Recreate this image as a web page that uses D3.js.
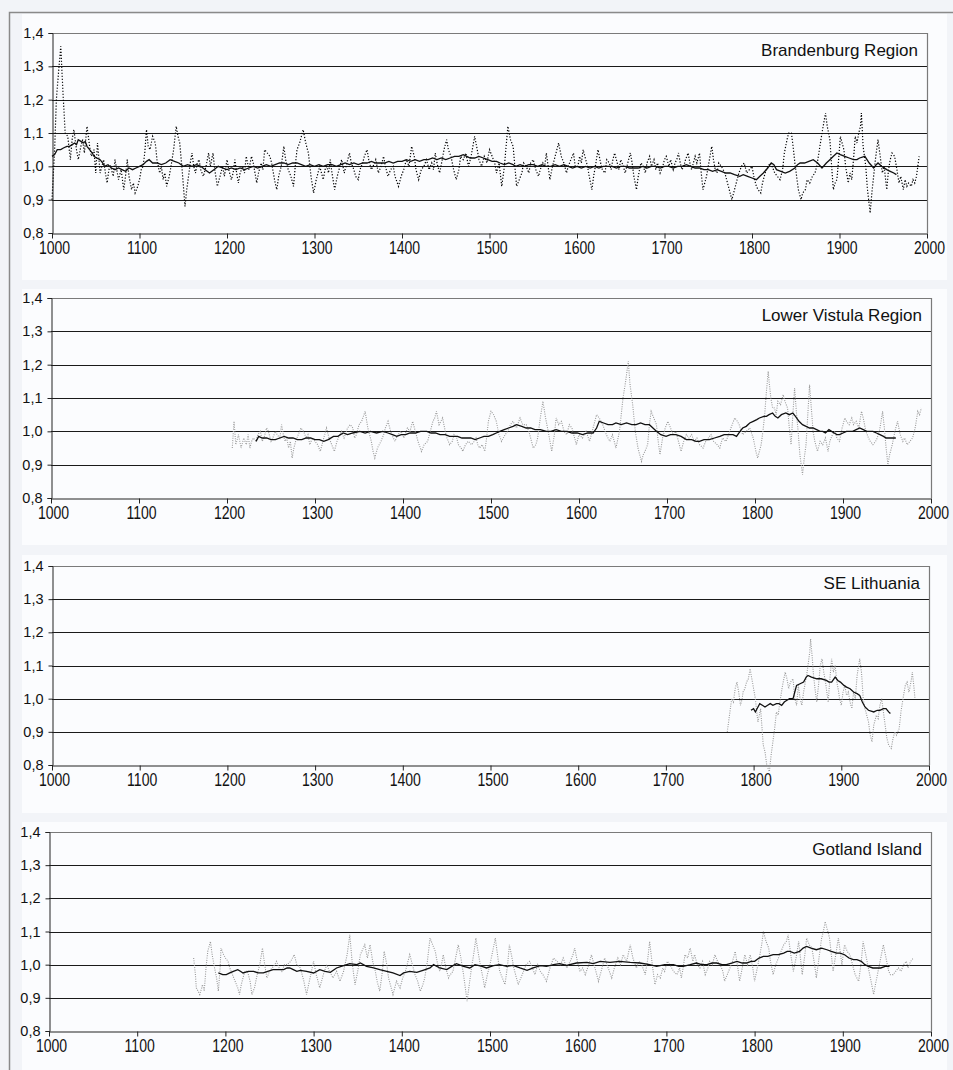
<!DOCTYPE html>
<html>
<head>
<meta charset="utf-8">
<script src="https://cdn.jsdelivr.net/npm/d3@7"></script>
<style>
  body { margin: 0; background: #f2f4f8; }
  svg { display: block; font-family: "Liberation Sans", Arial, sans-serif; }
</style>
</head>
<body>
<svg id="chart" width="953" height="1070"></svg>
<script>
'use strict';

// ---- data: [year, index] ----
const yTicks = [0.8, 0.9, 1.0, 1.1, 1.2, 1.3, 1.4];
const xTicks = [1000, 1100, 1200, 1300, 1400, 1500, 1600, 1700, 1800, 1900, 2000];
const regionNames = ["Brandenburg Region", "Lower Vistula Region", "SE Lithuania", "Gotland Island"];

const brandenburgIndex = [
  [1000,0.90],[1003,1.05],[1005,1.20],[1008,1.30],[1010,1.36],[1013,1.20],[1015,1.10],[1018,1.09],[1021,1.02],
  [1023,1.08],[1025,1.11],[1028,1.05],[1030,1.02],[1033,1.06],[1035,1.08],[1037,1.04],[1040,1.12],[1043,1.06],
  [1045,1.03],[1048,1.05],[1050,0.98],[1052,1.07],[1055,0.98],[1057,1.00],[1059,1.02],[1061,0.98],[1063,0.95],
  [1065,0.99],[1067,1.00],[1070,0.97],[1072,1.02],[1074,0.99],[1076,0.96],[1079,0.99],[1082,0.93],[1084,0.97],
  [1086,1.02],[1088,0.97],[1091,0.93],[1093,0.95],[1095,0.92],[1098,0.94],[1100,0.96],[1102,0.99],[1104,1.00],
  [1106,1.04],[1108,1.11],[1110,1.06],[1112,1.05],[1115,1.09],[1118,1.07],[1120,1.02],[1123,0.98],[1125,1.00],
  [1127,0.96],[1129,0.98],[1131,0.94],[1134,0.97],[1136,1.00],[1139,1.05],[1142,1.12],[1144,1.09],[1146,1.07],
  [1149,0.98],[1152,0.88],[1154,0.93],[1156,0.97],[1158,1.01],[1160,1.04],[1162,1.00],[1164,0.98],[1166,1.01],
  [1168,1.02],[1170,0.99],[1173,0.97],[1176,1.00],[1179,1.04],[1181,1.00],[1184,1.04],[1186,0.99],[1189,0.94],
  [1192,0.97],[1195,1.00],[1197,0.97],[1200,1.02],[1202,0.99],[1205,0.96],[1207,0.98],[1209,1.02],[1211,0.98],
  [1213,0.95],[1215,0.98],[1218,1.00],[1220,0.98],[1222,1.03],[1225,0.99],[1228,1.03],[1230,1.01],[1232,0.98],
  [1234,0.95],[1236,0.98],[1239,1.01],[1241,0.99],[1243,1.05],[1246,1.04],[1249,1.03],[1251,1.01],[1253,0.98],
  [1255,0.95],[1257,0.93],[1259,0.97],[1262,1.00],[1265,1.06],[1267,1.02],[1270,0.99],[1273,0.97],[1276,0.94],
  [1278,1.00],[1280,1.05],[1283,1.07],[1287,1.11],[1290,1.07],[1293,1.04],[1296,0.97],[1299,0.92],[1302,0.96],
  [1306,1.00],[1308,0.98],[1310,0.96],[1312,0.99],[1314,1.00],[1316,0.98],[1318,1.02],[1320,0.98],[1323,0.93],
  [1326,0.97],[1329,1.00],[1331,1.02],[1334,0.98],[1337,1.01],[1340,1.04],[1342,1.01],[1345,0.99],[1347,0.97],
  [1350,0.96],[1352,0.99],[1355,1.01],[1357,1.03],[1360,1.05],[1362,1.02],[1365,0.99],[1367,1.00],[1370,1.02],
  [1373,0.98],[1376,1.00],[1379,1.03],[1381,1.00],[1384,0.97],[1387,0.99],[1390,1.00],[1392,0.97],[1396,0.94],
  [1399,0.97],[1402,0.99],[1405,1.02],[1408,1.00],[1411,1.06],[1414,1.03],[1416,0.99],[1419,0.96],[1422,0.99],
  [1425,1.00],[1428,1.02],[1431,0.99],[1434,1.01],[1436,0.99],[1438,1.04],[1440,1.01],[1443,0.98],[1446,1.02],
  [1448,1.05],[1451,1.08],[1453,1.05],[1456,1.03],[1459,0.99],[1462,0.96],[1465,0.99],[1467,1.03],[1470,1.02],
  [1473,1.04],[1476,1.00],[1479,1.03],[1481,1.06],[1483,1.09],[1486,1.05],[1488,1.02],[1491,1.00],[1494,1.03],
  [1497,1.01],[1500,1.05],[1503,1.03],[1506,1.01],[1508,0.98],[1511,1.01],[1514,0.94],[1517,1.00],[1519,1.06],
  [1521,1.12],[1524,1.08],[1527,1.06],[1529,1.00],[1531,0.94],[1534,0.96],[1537,0.98],[1539,1.01],[1542,1.00],
  [1545,0.98],[1547,1.01],[1550,1.02],[1553,0.99],[1556,0.97],[1558,0.99],[1561,1.01],[1563,1.00],[1565,1.04],
  [1567,1.00],[1569,0.96],[1572,1.00],[1575,1.03],[1577,1.05],[1579,1.07],[1582,1.03],[1585,1.01],[1588,0.98],
  [1590,1.00],[1593,1.02],[1596,1.04],[1598,1.00],[1601,1.00],[1603,1.03],[1605,1.01],[1607,1.05],[1610,1.02],
  [1612,1.00],[1614,0.97],[1617,0.93],[1619,0.97],[1621,1.00],[1624,1.05],[1627,1.01],[1629,0.99],[1632,0.98],
  [1634,1.02],[1637,1.01],[1639,0.99],[1641,1.02],[1643,1.04],[1646,1.01],[1648,0.99],[1650,1.02],[1653,1.00],
  [1655,0.98],[1658,1.01],[1661,1.04],[1663,1.01],[1665,0.97],[1668,0.93],[1670,0.97],[1673,1.01],[1676,1.00],
  [1678,0.98],[1680,1.01],[1683,1.03],[1685,1.00],[1688,1.02],[1690,0.99],[1692,1.01],[1695,0.98],[1698,1.00],
  [1700,1.02],[1702,1.03],[1705,1.00],[1707,1.02],[1710,0.99],[1712,1.01],[1714,1.02],[1716,1.04],[1718,1.01],
  [1720,0.99],[1722,1.00],[1724,1.02],[1727,1.04],[1729,1.01],[1731,0.99],[1733,1.01],[1735,1.03],[1737,1.01],
  [1740,1.04],[1742,0.98],[1744,0.93],[1746,0.95],[1748,0.97],[1750,1.00],[1752,1.03],[1754,1.06],[1756,1.02],
  [1758,0.99],[1760,0.98],[1762,1.01],[1765,1.00],[1767,0.99],[1769,0.98],[1771,0.96],[1774,0.93],[1777,0.90],
  [1780,0.93],[1782,0.95],[1785,0.98],[1788,1.00],[1791,1.01],[1794,0.98],[1797,0.99],[1800,1.00],[1802,0.97],
  [1805,0.94],[1807,0.93],[1810,0.92],[1812,0.95],[1815,0.98],[1818,1.00],[1821,1.01],[1823,1.00],[1826,0.98],
  [1829,0.97],[1832,0.96],[1835,0.99],[1837,1.04],[1840,1.08],[1842,1.10],[1845,1.10],[1847,1.06],[1849,1.01],
  [1851,0.97],[1853,0.93],[1856,0.90],[1858,0.92],[1861,0.93],[1863,0.96],[1866,0.95],[1869,0.97],[1872,0.98],
  [1874,1.00],[1877,1.05],[1880,1.10],[1882,1.13],[1884,1.16],[1886,1.12],[1889,1.08],[1891,1.00],[1893,0.93],
  [1895,0.95],[1897,0.96],[1899,1.02],[1901,1.09],[1903,1.07],[1905,1.05],[1907,1.00],[1910,0.95],[1912,0.98],
  [1914,0.96],[1916,1.02],[1918,1.09],[1920,1.07],[1922,1.10],[1924,1.12],[1925,1.16],[1927,1.06],[1930,1.00],
  [1932,0.93],[1935,0.86],[1937,0.92],[1939,0.97],[1941,1.02],[1944,1.08],[1946,1.04],[1949,0.98],[1951,1.00],
  [1954,0.93],[1956,0.99],[1958,1.02],[1960,1.04],[1963,1.03],[1965,1.00],[1968,0.95],[1970,0.97],[1973,0.93],
  [1975,0.96],[1977,0.94],[1979,0.95],[1982,0.94],[1984,0.96],[1986,0.95],[1988,0.97],[1991,1.03]
];
const brandenburgMean = [
  [1000,1.03],[1003,1.035],[1006,1.05],[1010,1.05],[1013,1.055],[1017,1.06],[1020,1.06],[1023,1.065],[1026,1.07],
  [1028,1.065],[1030,1.08],[1033,1.075],[1036,1.07],[1038,1.075],[1040,1.06],[1043,1.05],[1046,1.04],[1048,1.03],
  [1051,1.025],[1055,1.02],[1058,1.01],[1060,1.00],[1064,1.005],[1068,0.995],[1072,0.99],[1076,0.995],[1080,0.99],
  [1084,0.985],[1088,0.995],[1092,0.99],[1096,0.995],[1100,1.00],[1104,1.005],[1108,1.015],[1111,1.02],[1115,1.01],
  [1120,1.01],[1125,1.005],[1130,1.01],[1135,1.02],[1140,1.015],[1145,1.01],[1150,1.00],[1155,1.005],[1160,1.00],
  [1165,1.005],[1170,1.00],[1175,0.99],[1180,0.98],[1185,0.99],[1190,1.00],[1195,0.995],[1200,0.99],[1205,0.995],
  [1210,0.99],[1215,0.995],[1220,0.99],[1225,0.995],[1230,1.00],[1235,0.995],[1240,1.00],[1245,1.005],[1250,1.00],
  [1255,1.005],[1260,1.01],[1265,1.01],[1270,1.005],[1275,1.01],[1280,1.01],[1285,1.005],[1290,1.00],[1295,1.005],
  [1300,1.00],[1305,1.005],[1310,1.00],[1315,1.005],[1320,1.005],[1325,1.00],[1330,1.005],[1335,1.01],[1340,1.005],
  [1345,1.01],[1350,1.005],[1355,1.01],[1360,1.01],[1365,1.015],[1370,1.01],[1375,1.01],[1380,1.01],[1385,1.015],
  [1390,1.01],[1395,1.015],[1400,1.015],[1405,1.02],[1410,1.015],[1415,1.02],[1420,1.015],[1425,1.02],[1430,1.02],
  [1435,1.025],[1440,1.02],[1445,1.025],[1450,1.02],[1455,1.025],[1460,1.03],[1465,1.03],[1470,1.035],[1474,1.03],
  [1478,1.025],[1483,1.025],[1488,1.03],[1493,1.025],[1498,1.02],[1503,1.015],[1508,1.015],[1512,1.01],[1517,1.005],
  [1522,1.01],[1527,1.005],[1530,1.00],[1535,1.005],[1540,1.00],[1545,1.005],[1550,1.005],[1555,1.00],[1560,1.005],
  [1565,1.00],[1570,1.00],[1575,1.005],[1580,1.00],[1585,1.005],[1590,1.00],[1595,0.995],[1600,1.00],[1605,0.995],
  [1610,1.00],[1615,0.995],[1620,1.00],[1625,0.995],[1630,1.00],[1635,1.00],[1640,1.00],[1645,0.995],[1650,1.00],
  [1655,1.00],[1660,0.995],[1665,0.995],[1670,0.995],[1675,1.00],[1680,0.995],[1685,1.00],[1690,1.00],[1695,0.995],
  [1700,1.00],[1705,1.00],[1710,0.995],[1715,1.00],[1720,1.00],[1725,1.005],[1730,1.00],[1735,0.995],[1740,0.995],
  [1745,0.99],[1750,0.99],[1755,0.985],[1760,0.99],[1765,0.985],[1770,0.98],[1775,0.98],[1780,0.975],[1786,0.97],
  [1790,0.975],[1795,0.97],[1800,0.965],[1805,0.96],[1809,0.97],[1813,0.98],[1818,0.995],[1822,1.01],[1825,1.005],
  [1828,0.99],[1833,0.985],[1838,0.98],[1843,0.985],[1849,0.995],[1852,1.005],[1855,1.01],[1860,1.01],[1865,1.015],
  [1870,1.02],[1875,1.01],[1880,0.995],[1885,1.01],[1889,1.02],[1893,1.03],[1897,1.04],[1901,1.035],[1906,1.03],
  [1911,1.025],[1916,1.02],[1920,1.02],[1923,1.025],[1929,1.03],[1934,1.01],[1939,0.995],[1942,1.005],[1944,1.01],
  [1948,1.00],[1954,0.99],[1958,0.985],[1962,0.98],[1965,0.975]
];

const vistulaIndex = [
  [1206,0.95],[1208,1.03],[1210,0.96],[1213,0.99],[1216,0.95],[1219,0.98],[1222,0.96],[1224,0.99],[1226,0.95],
  [1228,0.97],[1230,0.98],[1233,0.97],[1235,0.99],[1238,1.00],[1240,0.97],[1242,0.98],[1245,1.01],[1247,1.00],
  [1250,0.97],[1252,0.98],[1255,1.00],[1257,0.99],[1260,0.98],[1262,1.02],[1264,0.99],[1266,0.97],[1268,0.98],
  [1270,0.95],[1272,0.97],[1274,0.92],[1276,0.95],[1278,0.97],[1281,0.99],[1284,1.01],[1287,1.00],[1290,0.98],
  [1292,0.99],[1294,0.96],[1297,0.98],[1300,0.97],[1303,0.96],[1306,0.94],[1309,0.97],[1311,0.99],[1313,1.01],
  [1316,0.98],[1319,0.96],[1322,0.94],[1325,0.97],[1328,0.99],[1330,1.00],[1333,0.98],[1337,1.01],[1340,1.02],
  [1343,1.01],[1345,0.98],[1347,0.99],[1350,1.02],[1353,1.03],[1357,1.06],[1360,1.01],[1362,0.99],[1364,0.97],
  [1366,0.94],[1368,0.92],[1371,0.95],[1375,0.97],[1378,0.99],[1380,1.01],[1383,1.03],[1386,1.00],[1389,0.98],
  [1391,0.97],[1394,0.99],[1398,1.00],[1401,0.98],[1405,1.01],[1408,1.00],[1411,1.03],[1414,1.00],[1417,0.97],
  [1421,0.94],[1424,0.96],[1428,0.97],[1431,1.00],[1434,1.03],[1436,1.04],[1438,1.06],[1441,1.02],[1445,1.04],
  [1448,1.00],[1450,0.98],[1453,0.96],[1456,0.97],[1458,0.99],[1461,0.98],[1463,0.96],[1466,0.95],[1468,0.94],
  [1471,0.96],[1474,0.97],[1478,0.96],[1481,0.97],[1483,0.98],[1485,0.96],[1487,0.95],[1490,0.96],[1493,0.94],
  [1495,0.98],[1497,1.03],[1500,1.06],[1503,1.05],[1506,1.03],[1509,0.99],[1512,0.97],[1516,0.99],[1519,1.00],
  [1522,1.02],[1525,1.03],[1529,1.01],[1533,1.04],[1536,1.02],[1540,1.02],[1543,1.00],[1546,0.97],[1548,0.95],
  [1551,0.96],[1553,0.98],[1556,1.04],[1559,1.09],[1562,1.04],[1565,1.00],[1567,0.97],[1569,0.94],[1572,0.99],
  [1574,1.04],[1577,1.02],[1580,1.03],[1583,1.00],[1586,0.99],[1589,1.02],[1592,1.01],[1595,0.98],[1597,0.96],
  [1600,0.99],[1604,0.98],[1608,1.00],[1612,0.97],[1616,1.01],[1620,1.05],[1623,1.04],[1627,1.02],[1631,0.99],
  [1635,0.97],[1638,0.99],[1642,0.95],[1646,1.00],[1650,1.10],[1653,1.15],[1656,1.21],[1658,1.14],[1661,1.08],
  [1664,1.00],[1667,0.95],[1669,0.93],[1671,0.91],[1673,0.93],[1675,0.94],[1678,0.96],[1680,1.02],[1682,1.06],
  [1685,1.04],[1688,1.02],[1690,0.97],[1692,0.93],[1695,0.98],[1698,1.01],[1701,1.03],[1704,1.01],[1707,0.99],
  [1710,1.00],[1713,0.97],[1716,0.94],[1719,0.97],[1722,0.99],[1725,0.98],[1728,0.99],[1731,0.97],[1734,0.98],
  [1737,0.96],[1741,0.95],[1744,0.97],[1747,0.98],[1750,0.99],[1753,0.97],[1757,0.96],[1760,0.95],[1763,0.98],
  [1767,0.97],[1770,0.99],[1774,1.02],[1777,1.04],[1780,1.03],[1782,1.02],[1786,0.99],[1790,1.00],[1794,1.01],
  [1798,0.98],[1801,0.94],[1803,0.92],[1805,0.94],[1807,0.96],[1809,1.00],[1811,1.05],[1813,1.12],[1815,1.18],
  [1816,1.15],[1818,1.10],[1820,1.07],[1822,1.07],[1824,1.05],[1826,1.09],[1829,1.08],[1832,1.11],[1834,1.09],
  [1837,1.07],[1839,1.01],[1841,0.96],[1843,1.05],[1845,1.13],[1847,1.06],[1849,1.00],[1851,0.93],[1854,0.87],
  [1856,0.92],[1858,0.96],[1860,1.05],[1862,1.14],[1864,1.07],[1866,1.00],[1868,0.97],[1871,0.94],[1874,0.97],
  [1877,0.96],[1880,0.98],[1883,0.94],[1885,0.97],[1888,0.99],[1891,1.00],[1893,0.98],[1896,0.97],[1899,1.01],
  [1902,1.04],[1904,1.03],[1907,1.02],[1910,1.04],[1912,1.02],[1915,1.03],[1918,1.01],[1921,1.06],[1923,1.04],
  [1926,1.00],[1929,0.98],[1931,0.97],[1934,0.96],[1937,0.97],[1939,0.98],[1942,1.01],[1945,1.06],[1947,1.01],
  [1949,0.95],[1951,0.90],[1953,0.93],[1956,0.96],[1959,1.00],[1962,1.03],[1965,0.99],[1968,0.97],[1970,0.98],
  [1973,0.96],[1976,0.97],[1979,0.98],[1982,1.01],[1985,1.06],[1987,1.05],[1989,1.07]
];
const vistulaMean = [
  [1233,0.97],[1236,0.985],[1240,0.98],[1245,0.98],[1250,0.975],[1255,0.975],[1260,0.98],[1265,0.985],[1270,0.98],
  [1275,0.98],[1280,0.975],[1285,0.975],[1290,0.98],[1295,0.98],[1300,0.975],[1305,0.975],[1310,0.97],[1315,0.975],
  [1321,0.985],[1326,0.985],[1332,0.995],[1337,0.99],[1343,0.995],[1351,1.00],[1357,0.995],[1363,1.00],[1370,0.995],
  [1377,1.00],[1383,0.995],[1388,0.99],[1393,0.985],[1398,0.99],[1403,0.99],[1408,0.995],[1414,0.995],[1420,1.00],
  [1427,1.00],[1432,0.995],[1437,0.995],[1442,0.99],[1448,0.99],[1453,0.985],[1457,0.985],[1462,0.985],[1467,0.98],
  [1472,0.98],[1477,0.98],[1482,0.975],[1487,0.98],[1492,0.985],[1497,0.985],[1502,0.99],[1506,0.995],[1510,1.00],
  [1515,1.005],[1520,1.01],[1525,1.015],[1529,1.02],[1535,1.015],[1540,1.01],[1545,1.01],[1550,1.005],[1556,1.005],
  [1563,1.00],[1568,1.00],[1574,1.005],[1580,1.00],[1586,1.00],[1592,0.995],[1598,0.995],[1604,0.99],[1610,0.995],
  [1616,0.995],[1620,1.01],[1623,1.03],[1628,1.025],[1633,1.02],[1638,1.02],[1642,1.025],[1648,1.02],[1654,1.025],
  [1660,1.02],[1665,1.02],[1670,1.025],[1675,1.02],[1680,1.02],[1684,1.01],[1688,1.00],[1693,0.99],[1699,0.985],
  [1704,0.99],[1710,0.99],[1716,0.985],[1722,0.975],[1728,0.975],[1733,0.97],[1737,0.97],[1742,0.975],[1748,0.975],
  [1754,0.98],[1760,0.985],[1765,0.99],[1771,0.99],[1775,0.99],[1779,0.985],[1783,1.00],[1786,1.01],[1790,1.015],
  [1794,1.025],[1798,1.03],[1802,1.035],[1805,1.04],[1810,1.045],[1813,1.045],[1816,1.05],[1820,1.055],[1823,1.045],
  [1826,1.04],[1830,1.05],[1835,1.055],[1839,1.05],[1843,1.055],[1846,1.045],[1850,1.03],[1854,1.02],[1858,1.015],
  [1862,1.01],[1866,1.01],[1870,1.005],[1874,1.00],[1877,1.00],[1880,0.995],[1884,1.005],[1887,1.00],[1890,0.995],
  [1893,0.99],[1896,0.99],[1900,0.995],[1904,1.00],[1907,1.00],[1911,1.00],[1915,1.005],[1919,1.01],[1923,1.005],
  [1927,1.00],[1931,1.00],[1934,1.00],[1938,0.995],[1942,0.99],[1946,0.985],[1949,0.98],[1953,0.98],[1957,0.98],
  [1960,0.98]
];

const lithuaniaIndex = [
  [1770,0.90],[1772,0.94],[1773,0.96],[1775,1.00],[1777,0.99],[1779,1.03],[1781,1.05],[1783,1.02],[1785,0.98],
  [1787,1.00],[1788,1.02],[1790,1.03],[1792,1.05],[1794,1.06],[1796,1.09],[1798,1.06],[1800,1.03],[1802,1.00],
  [1804,0.95],[1805,0.93],[1808,0.97],[1811,0.86],[1813,0.84],[1815,0.80],[1818,0.78],[1820,0.83],[1822,0.87],
  [1824,0.91],[1826,0.96],[1828,0.95],[1830,0.99],[1833,1.04],[1836,1.08],[1838,1.06],[1840,1.03],[1842,1.05],
  [1845,1.06],[1847,1.00],[1849,0.98],[1851,1.04],[1853,1.00],[1855,0.98],[1857,1.02],[1859,1.05],[1861,1.08],
  [1862,1.10],[1864,1.14],[1865,1.18],[1867,1.12],[1868,1.08],[1870,1.03],[1872,0.99],[1874,1.04],[1876,1.10],
  [1878,1.12],[1880,1.08],[1882,1.05],[1884,1.01],[1885,0.99],[1887,1.06],[1889,1.12],[1891,1.08],[1893,1.10],
  [1895,1.05],[1897,1.02],[1898,1.00],[1900,0.98],[1902,1.02],[1904,1.04],[1906,1.01],[1908,1.02],[1910,0.99],
  [1912,0.97],[1914,1.02],[1916,1.00],[1918,1.07],[1921,1.12],[1923,1.08],[1925,1.00],[1927,0.97],[1929,0.95],
  [1931,0.93],[1933,0.89],[1935,0.87],[1937,0.92],[1940,0.95],[1942,0.94],[1944,0.98],[1946,1.00],[1948,0.96],
  [1950,0.92],[1952,0.88],[1954,0.86],[1957,0.85],[1959,0.88],[1961,0.90],[1963,0.89],[1966,0.91],[1968,0.96],
  [1971,1.01],[1973,1.04],[1975,1.05],[1977,1.02],[1978,1.03],[1980,1.06],[1981,1.08],[1983,1.03],[1984,1.00]
];
const lithuaniaMean = [
  [1797,0.965],[1800,0.97],[1802,0.96],[1805,0.975],[1807,0.985],[1810,0.98],[1813,0.975],[1816,0.98],[1819,0.985],
  [1822,0.98],[1826,0.985],[1829,0.985],[1832,0.98],[1835,0.99],[1838,0.995],[1841,1.00],[1845,1.00],[1847,1.02],
  [1849,1.04],[1853,1.045],[1857,1.05],[1860,1.065],[1862,1.07],[1866,1.065],[1872,1.06],[1877,1.06],[1883,1.055],
  [1886,1.05],[1889,1.05],[1893,1.065],[1896,1.055],[1899,1.05],[1903,1.04],[1906,1.035],[1910,1.03],[1914,1.02],
  [1918,1.015],[1921,1.01],[1924,0.99],[1927,0.975],[1931,0.965],[1937,0.96],[1941,0.965],[1944,0.965],[1948,0.97],
  [1951,0.97],[1954,0.96],[1956,0.955]
];

const gotlandIndex = [
  [1164,1.02],[1166,0.97],[1167,0.93],[1169,0.92],[1171,0.91],[1174,0.94],[1176,0.92],[1178,0.99],[1180,1.04],
  [1183,1.07],[1185,1.03],[1187,1.00],[1190,0.96],[1192,0.92],[1194,0.99],[1195,1.05],[1198,1.03],[1200,1.02],
  [1203,1.01],[1205,0.99],[1208,0.97],[1211,0.95],[1214,0.93],[1216,0.91],[1218,0.94],[1220,0.96],[1222,0.98],
  [1225,0.98],[1228,0.95],[1230,0.91],[1233,0.93],[1236,0.97],[1239,1.00],[1242,1.05],[1244,1.01],[1247,0.96],
  [1250,0.98],[1253,0.99],[1256,1.00],[1258,1.01],[1261,0.99],[1264,0.98],[1267,1.00],[1270,1.00],[1274,1.01],
  [1278,1.03],[1281,1.00],[1285,0.99],[1289,0.95],[1292,0.91],[1296,0.96],[1300,1.01],[1303,0.97],[1307,0.93],
  [1311,0.97],[1315,1.00],[1318,0.98],[1322,0.96],[1326,0.98],[1330,0.95],[1334,0.98],[1338,1.03],[1341,1.09],
  [1344,1.00],[1347,0.94],[1350,0.98],[1353,1.03],[1358,1.06],[1361,1.02],[1364,1.06],[1367,1.01],[1370,0.98],
  [1372,0.95],[1375,0.92],[1378,0.98],[1380,1.04],[1383,1.00],[1385,0.96],[1388,0.93],[1390,0.91],[1394,0.95],
  [1398,0.93],[1401,0.96],[1404,0.98],[1406,1.00],[1409,1.03],[1412,1.00],[1415,0.97],[1418,0.95],[1421,0.92],
  [1424,0.94],[1426,0.96],[1429,1.01],[1432,1.08],[1435,1.06],[1438,1.04],[1440,1.01],[1443,0.98],[1445,1.00],
  [1447,1.03],[1450,0.99],[1453,0.96],[1455,0.97],[1458,0.98],[1461,1.02],[1464,1.06],[1467,1.02],[1470,0.97],
  [1472,0.93],[1474,0.89],[1477,0.95],[1479,0.99],[1482,1.04],[1484,1.08],[1487,1.03],[1489,1.00],[1492,0.96],
  [1494,0.93],[1497,0.97],[1500,1.00],[1503,1.04],[1506,1.08],[1509,1.02],[1511,0.98],[1514,0.96],[1517,0.94],
  [1520,1.00],[1522,1.06],[1525,1.02],[1527,0.99],[1530,0.96],[1532,0.94],[1535,0.96],[1538,0.98],[1541,1.00],
  [1545,1.01],[1548,0.99],[1551,0.97],[1554,1.00],[1557,0.98],[1560,0.97],[1564,0.95],[1568,0.99],[1572,1.02],
  [1576,1.01],[1580,1.00],[1583,1.02],[1587,0.99],[1591,1.01],[1594,1.03],[1596,1.05],[1599,1.01],[1602,0.98],
  [1605,0.99],[1608,0.97],[1612,1.00],[1615,1.03],[1619,0.99],[1623,0.95],[1627,0.99],[1630,1.02],[1634,0.99],
  [1638,0.96],[1641,0.99],[1645,1.02],[1648,1.00],[1651,1.03],[1655,1.01],[1659,1.06],[1662,1.02],[1666,0.99],
  [1669,1.01],[1672,1.00],[1676,0.97],[1679,1.02],[1681,1.07],[1684,1.00],[1687,0.94],[1690,0.97],[1693,0.96],
  [1696,0.99],[1698,0.98],[1701,1.01],[1704,1.00],[1708,0.98],[1712,0.97],[1715,0.99],[1717,0.96],[1719,0.99],
  [1721,1.03],[1724,1.02],[1727,1.05],[1730,1.01],[1732,1.03],[1735,1.00],[1738,0.99],[1741,1.01],[1744,0.97],
  [1747,0.99],[1749,1.01],[1752,1.00],[1755,1.03],[1758,1.01],[1761,1.00],[1764,0.98],[1766,0.95],[1769,0.97],
  [1772,0.99],[1775,1.01],[1778,1.04],[1781,0.99],[1783,0.95],[1786,0.99],[1789,1.03],[1792,1.00],[1795,1.03],
  [1798,0.99],[1800,0.95],[1803,0.99],[1806,1.03],[1808,1.06],[1810,1.10],[1813,1.07],[1816,1.05],[1818,1.01],
  [1821,0.97],[1824,1.00],[1827,1.02],[1830,1.04],[1833,1.06],[1836,1.07],[1838,1.09],[1841,1.03],[1844,0.98],
  [1847,1.02],[1850,1.07],[1852,1.02],[1854,0.97],[1857,1.03],[1859,1.08],[1862,1.06],[1865,1.05],[1868,1.00],
  [1870,0.96],[1873,1.02],[1876,1.08],[1878,1.10],[1880,1.13],[1883,1.10],[1885,1.08],[1887,1.03],[1889,0.98],
  [1892,1.03],[1895,1.08],[1897,1.04],[1899,1.00],[1902,1.06],[1905,1.04],[1908,1.03],[1911,1.00],[1914,0.97],
  [1916,0.96],[1918,0.95],[1921,1.01],[1923,1.07],[1926,1.03],[1929,0.99],[1932,0.95],[1935,0.91],[1937,0.94],
  [1940,0.98],[1943,1.02],[1946,1.06],[1949,1.02],[1952,0.98],[1954,0.97],[1957,0.97],[1960,0.98],[1963,0.99],
  [1966,0.98],[1969,1.00],[1972,1.01],[1974,0.99],[1977,1.01],[1980,1.02]
];
const gotlandMean = [
  [1192,0.975],[1197,0.97],[1201,0.97],[1205,0.975],[1209,0.98],[1214,0.985],[1217,0.98],[1220,0.975],[1226,0.98],
  [1232,0.98],[1237,0.975],[1243,0.975],[1248,0.98],[1254,0.985],[1260,0.985],[1266,0.985],[1270,0.99],[1273,0.99],
  [1277,0.985],[1281,0.98],[1285,0.983],[1292,0.98],[1300,0.975],[1307,0.985],[1313,0.98],[1319,0.977],[1326,0.99],
  [1334,0.997],[1341,1.003],[1349,1.00],[1353,1.005],[1360,0.995],[1368,0.99],[1375,0.985],[1383,0.98],[1390,0.975],
  [1398,0.967],[1402,0.975],[1409,0.98],[1417,0.977],[1424,0.983],[1432,0.99],[1436,1.00],[1443,0.99],[1451,0.985],
  [1458,0.997],[1462,1.003],[1470,0.995],[1477,0.99],[1483,1.00],[1491,0.995],[1496,0.99],[1504,0.997],[1511,1.00],
  [1519,0.995],[1526,0.998],[1534,0.99],[1542,0.983],[1549,0.99],[1557,0.997],[1564,0.995],[1572,1.00],[1579,1.003],
  [1587,0.998],[1598,1.005],[1610,1.007],[1617,1.003],[1625,1.01],[1636,1.007],[1647,1.01],[1659,1.007],[1670,1.005],
  [1681,1.00],[1689,0.995],[1698,1.00],[1708,1.00],[1714,0.995],[1719,0.995],[1727,1.00],[1734,1.005],[1740,1.00],
  [1746,1.00],[1752,1.005],[1757,1.005],[1763,1.00],[1768,1.00],[1774,1.005],[1780,1.01],[1786,1.005],[1791,1.005],
  [1796,1.01],[1800,1.01],[1805,1.02],[1810,1.025],[1815,1.025],[1821,1.03],[1827,1.03],[1833,1.035],[1837,1.04],
  [1840,1.04],[1845,1.035],[1851,1.04],[1855,1.05],[1859,1.055],[1864,1.05],[1870,1.045],[1876,1.05],[1882,1.045],
  [1887,1.04],[1893,1.035],[1897,1.035],[1902,1.03],[1907,1.02],[1912,1.015],[1916,1.015],[1921,1.01],[1925,1.00],
  [1929,0.995],[1934,0.99],[1938,0.99],[1943,0.99],[1948,0.995],[1953,0.995]
];

// ---- layout ----
const indexSeries = [brandenburgIndex, vistulaIndex, lithuaniaIndex, gotlandIndex];
const meanSeries = [brandenburgMean, vistulaMean, lithuaniaMean, gotlandMean];

const layout = [
  {box: [14, 280],  top: 33,  bottom: 233,  left: 52, right: 927, dotColor: "#000", dash: "1.2,1.8", dotWidth: 1.2},
  {box: [289, 545], top: 298, bottom: 498,  left: 51, right: 931, dotColor: "#999", dash: "1,1.3", dotWidth: 1.1},
  {box: [555, 813], top: 566, bottom: 765,  left: 52, right: 929, dotColor: "#999", dash: "1,1.3", dotWidth: 1.1},
  {box: [822, 1070], top: 832, bottom: 1031, left: 49, right: 931, dotColor: "#999", dash: "1,1.3", dotWidth: 1.1}
];

const commaFmt = d3.formatLocale({decimal: ",", thousands: ".", grouping: [3], currency: ["", ""]}).format(".1f");
const fontStack = "'Liberation Sans', Arial, sans-serif";

const svg = d3.select("#chart");

// outer frame
svg.append("rect").attr("width", 953).attr("height", 1070).attr("fill", "#f2f4f8");
svg.append("path")
  .attr("d", "M9.5,1070 V12.5 H953")
  .attr("fill", "none")
  .attr("stroke", "#8a8a8a")
  .attr("stroke-width", 1.5);

layout.forEach((p, i) => {
  const g = svg.append("g");

  // chart area background
  g.append("rect")
    .attr("x", 22).attr("y", p.box[0])
    .attr("width", 925).attr("height", p.box[1] - p.box[0])
    .attr("fill", "#fbfcfe");

  const x = d3.scaleLinear().domain([1000, 2000]).range([p.left, p.right]);
  const y = d3.scaleLinear().domain([0.8, 1.4]).range([p.bottom, p.top]);

  // grid lines
  g.selectAll(".grid")
    .data(yTicks.slice(1, -1))
    .enter().append("line")
    .attr("x1", p.left).attr("x2", p.right)
    .attr("y1", d => Math.round(y(d)) + 0.5).attr("y2", d => Math.round(y(d)) + 0.5)
    .attr("stroke", "#1a1a1a").attr("stroke-width", 1);

  // top + right border of plot area
  g.append("path")
    .attr("d", `M${p.left},${Math.round(y(1.4)) + 0.5} H${p.right + 0.5} V${p.bottom}`)
    .attr("fill", "none").attr("stroke", "#7a7a7a").attr("stroke-width", 1.2);

  // y axis
  const yAxis = g.append("g")
    .attr("transform", `translate(${p.left + 0.5},0)`)
    .call(d3.axisLeft(y).tickValues(yTicks).tickFormat(commaFmt).tickSize(4).tickPadding(5));
  yAxis.select(".domain").attr("stroke", "#222");
  yAxis.selectAll(".tick line").attr("stroke", "#222");
  yAxis.selectAll("text").attr("font-size", 14.5).attr("fill", "#111").attr("font-family", fontStack);

  // x axis
  const xAxis = g.append("g")
    .attr("transform", `translate(0,${Math.round(p.bottom) + 0.5})`)
    .call(d3.axisBottom(x).tickValues(xTicks).tickFormat(d3.format("d")).tickSize(5).tickPadding(3).tickSizeOuter(0));
  xAxis.select(".domain").attr("stroke", "#222");
  xAxis.selectAll(".tick line").attr("stroke", "#222");
  xAxis.selectAll("text").attr("font-size", 18).attr("fill", "#111").attr("font-family", fontStack)
    .attr("transform", "translate(2,0) scale(0.78,1)");

  // title
  g.append("text")
    .attr("x", p.right - 9).attr("y", p.top + 23)
    .attr("text-anchor", "end")
    .attr("font-size", 17).attr("fill", "#111").attr("font-family", fontStack)
    .text(regionNames[i]);

  const line = d3.line().x(d => x(d[0])).y(d => y(d[1]));

  // annual index (dotted)
  g.append("path")
    .datum(indexSeries[i])
    .attr("d", line)
    .attr("fill", "none")
    .attr("stroke", p.dotColor)
    .attr("stroke-width", p.dotWidth)
    .attr("stroke-dasharray", p.dash);

  // running mean (solid)
  g.append("path")
    .datum(meanSeries[i])
    .attr("d", line)
    .attr("fill", "none")
    .attr("stroke", "#111")
    .attr("stroke-width", 1.3);
});
</script>
</body>
</html>
